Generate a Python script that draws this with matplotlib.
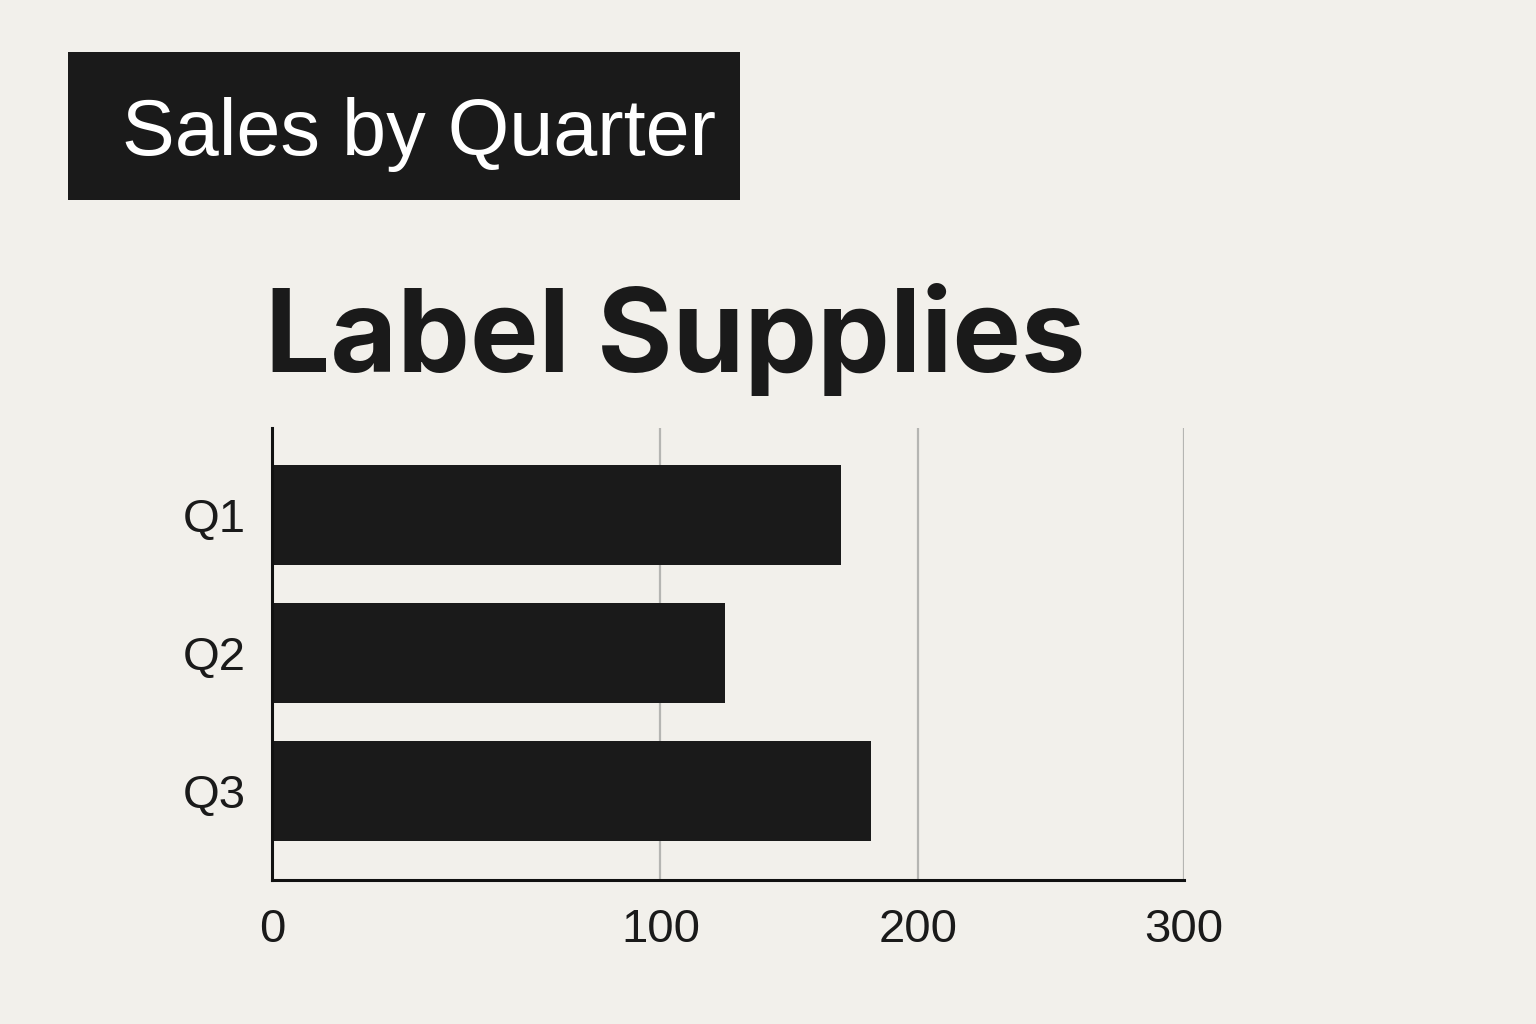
import numpy as np
import matplotlib
matplotlib.use("Agg")
import matplotlib.pyplot as plt
from matplotlib.patches import Rectangle

categories = ["Q1", "Q2", "Q3"]
sales = [170, 125, 182]
tick_values = [0, 100, 200, 300]
tick_labels = ["0", "100", "200", "300"]

# uneven axis spacing as drawn in the reference
_brk_data = np.array([0, 100, 200, 300], dtype=float)
_brk_disp = np.array([0, 388, 645, 911], dtype=float)

def fwd(x):
    return np.interp(x, _brk_data, _brk_disp)

def inv(y):
    return np.interp(y, _brk_disp, _brk_data)

BG = "#f2f0eb"
INK = "#1a1a1a"

fig = plt.figure(figsize=(15.36, 10.24), dpi=100, facecolor=BG)

# header box
fig.patches.append(Rectangle((68/1536, 1-200/1024), 672/1536, 148/1024,
                             transform=fig.transFigure, facecolor=INK,
                             edgecolor="none", zorder=0))
fig.text(122/1536, 1-155/1024, "Sales by Quarter", color="white",
         fontsize=57, family="Liberation Sans", ha="left", va="baseline")
fig.text(265/1536, 1-372/1024, "Label Supplies", color=INK,
         fontsize=83, family="Inter", fontweight="bold", ha="left", va="baseline")

ax = fig.add_axes([272/1536, 1-880/1024, 912/1536, 452/1024])
ax.set_facecolor(BG)
ax.set_xscale("function", functions=(fwd, inv))
ypos = np.arange(len(categories))
ax.barh(ypos, sales, height=0.725, color=INK, zorder=3)
ax.set_xlim(0, 300)
ax.set_ylim(2.645, -0.63)
ax.set_yticks(ypos)
ax.set_yticklabels(categories)
ax.set_xticks(tick_values)
ax.set_xticklabels(tick_labels)
ax.xaxis.set_minor_locator(matplotlib.ticker.NullLocator())
ax.tick_params(axis="both", length=0, labelsize=34, colors=INK)
ax.tick_params(axis="x", pad=20)
ax.tick_params(axis="y", pad=19)
for lab in ax.get_xticklabels() + ax.get_yticklabels():
    lab.set_family("Liberation Sans")
for v in tick_values[1:]:
    ax.axvline(v, color="#b5b5b2", lw=1.6, zorder=1)
for s in ["top", "right"]:
    ax.spines[s].set_visible(False)
for s in ["left", "bottom"]:
    ax.spines[s].set_color("#111111")
    ax.spines[s].set_linewidth(2.2)
    ax.spines[s].set_zorder(4)

fig.savefig("out.png", dpi=100, facecolor=BG)
